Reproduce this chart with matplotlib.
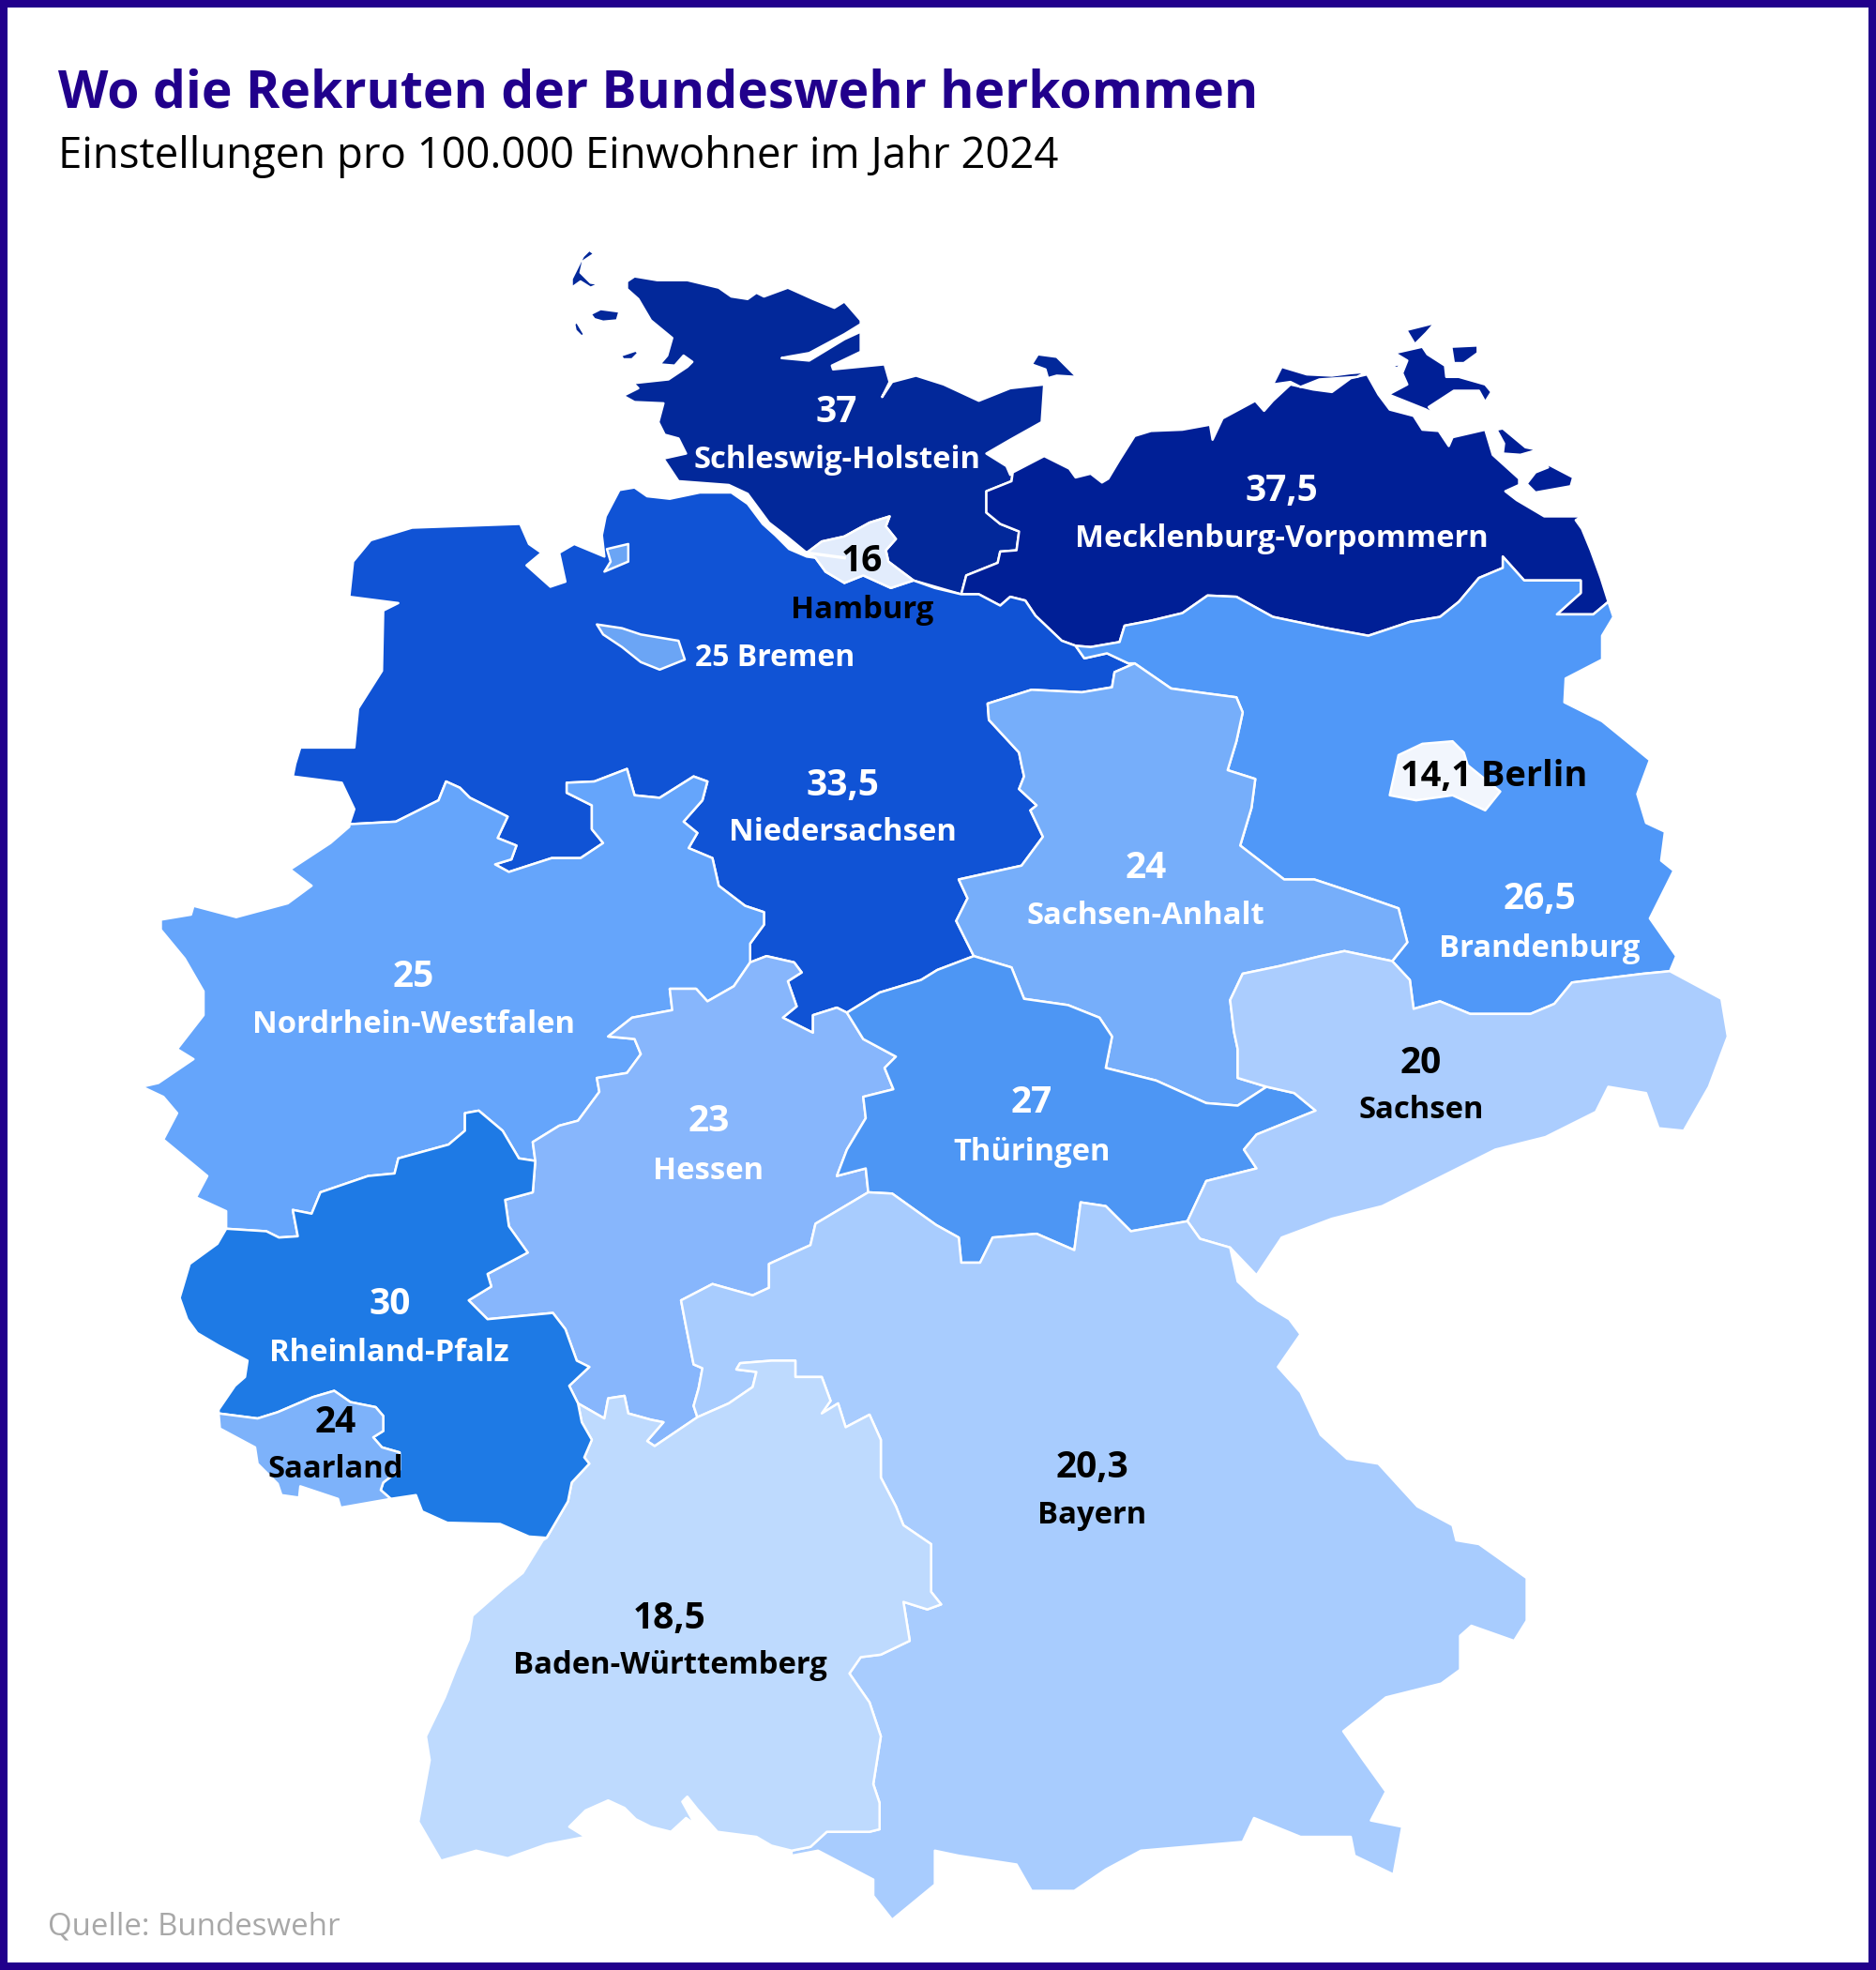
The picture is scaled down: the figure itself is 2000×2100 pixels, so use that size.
import matplotlib
matplotlib.use("Agg")
import matplotlib.pyplot as plt
from matplotlib.patches import Rectangle

plt.rcParams['font.family'] = ['Open Sans', 'DejaVu Sans']

# -------------------------
# Data
# -------------------------
STATES = ["Schleswig-Holstein", "Mecklenburg-Vorpommern", "Hamburg", "Bremen", "Niedersachsen", "Berlin",
          "Sachsen-Anhalt", "Brandenburg", "Nordrhein-Westfalen", "Hessen", "Thüringen", "Sachsen",
          "Rheinland-Pfalz", "Saarland", "Bayern", "Baden-Württemberg"]
VALUES = ["37", "37,5", "16", "25", "33,5", "14,1", "24", "26,5", "25", "23", "27", "20", "30", "24", "20,3", "18,5"]
TITLE = "Wo die Rekruten der Bundeswehr herkommen"
SUBTITLE = "Einstellungen pro 100.000 Einwohner im Jahr 2024"
SOURCE = "Quelle: Bundeswehr"

SH_COAST_N = [(499,224),(505,220),(523,223),(547,223),(572,229),(582,236),(595,238),(602,233),(608,236),(627,229),
              (647,238),(664,245),(672,240),(685,255),(685,258),(672,266),(644,281),(627,284),(622,285),(644,287),
              (672,270),(685,264),(685,280),(662,291),(663,294),(704,290),(708,304),(702,316),(710,304),(729,299),
              (751,306),(779,319),(804,309),(831,306),(829,336),(804,350),(785,361),(801,371),(804,378)]
SH_MV = [(765,473),(769,458),(794,448),(796,439),(809,438),(811,423),(796,417),(785,408),(785,391),(805,383),(806,376)]
HH_SH = [(727,462),(707,447),(705,438),(713,429),(705,419),(708,411),(692,416),(672,427),(654,431),(642,440)]
SH_COAST_W = [(625,426),(612,416),(595,393),(580,386),(540,383),(528,365),(546,361),(540,349),(529,346),(524,336),
              (528,321),(505,320),(496,315),(508,309),(504,305),(532,302),(547,292),(551,288),(544,283),(537,291),
              (525,290),(531,283),(535,269),(518,255),(508,238),(499,230)]
SYLT = [(469,199),(473,202),(464,208),(462,217),(470,225),(477,226),(470,229),(462,224),(455,229),(455,222),(464,204)]
FOEHR = [(470,250),(478,246),(493,248),(491,255),(480,256),(473,254)]
AMRUM = [(457,258),(459,256),(465,266),(463,268),(458,263)]
PELLWORM = [(494,283),(506,279),(508,281),(503,286),(496,286)]
FEHMARN = [(821,290),(826,282),(841,284),(857,300),(841,299),(834,301),(832,294)]

MV_COAST = [(806,376),(831,363),(851,373),(856,380),(868,377),(877,384),(882,381),(891,366),(903,347),(916,343),(941,342),
            (963,338),(965,350),(973,333),(999,319),(1006,327),(1013,319),(1027,306),(1045,310),(1060,312),(1075,301),
            (1088,298),(1097,314),(1106,326),(1125,331),(1132,342),(1145,343),(1153,355),(1156,348),(1182,342),(1188,362),
            (1209,381),(1209,386),(1198,391),(1207,398),(1229,411),(1259,411),(1254,414),(1259,421),(1266,438),(1274,460),
            (1280,479)]
MV_BB = [(1280,479),(1268,489),(1239,489),(1258,472),(1258,462),(1232,462),(1213,462),(1196,443),(1196,452),(1177,460),
         (1161,479),(1146,491),(1122,495),(1089,506),(1056,500),(1013,491),(984,475),(961,474),(941,488),(916,494),(895,498),
         (891,511),(868,515),(856,514)]
NI_MV = [(765,473),(779,473),(796,482),(804,475),(816,478),(824,490),(845,510)]
DARSS = [(1013,306),(1020,292),(1040,298),(1060,299),(1075,297),(1088,296),(1080,300),(1050,302),(1035,308),(1027,304)]
WITTOW = [(1118,263),(1142,257),(1135,265),(1126,274),(1120,264)]
HIDDENSEE = [(1100,271),(1102,271),(1102,280),(1100,280)]
RUEGEN = [(1110,281),(1132,276),(1136,282),(1150,291),(1151,300),(1161,300),(1182,306),(1187,312),(1182,320),(1177,311),
          (1157,311),(1137,324),(1142,330),(1135,326),(1105,314),(1120,306),(1116,297),(1120,287)]
UMMANZ = [(1106,292),(1116,289),(1112,293)]
JASMUND = [(1155,276),(1176,275),(1176,281),(1165,289),(1157,289)]
USEDOM_N = [(1191,342),(1196,341),(1214,356),(1224,358),(1210,362),(1196,361),(1197,353)]
USEDOM_S = [(1229,368),(1252,380),(1250,387),(1222,392),(1215,385),(1222,376),(1232,372)]

NI_COAST = [(278,656),(282,644),(272,623),(233,618),(235,608),(239,595),(282,595),(285,564),(304,534),(305,486),
            (317,480),(278,475),(281,447),(295,430),(328,420),(414,417),(421,433),(431,440),(419,450),(438,467),
            (450,463),(445,440),(457,433),(481,443),(479,426),(482,411),(493,390),(505,388),(515,395),(533,397),
            (557,392),(582,392),(595,401),(607,417),(617,426),(628,437),(642,443),(649,444),(657,455),(672,464),
            (687,458),(709,468),(727,462),(744,468)]
NI_BB = [(856,514),(863,524),(881,520),(898,528),(903,528)]
NI_SA = [(903,528),(887,535),(885,547),(861,551),(821,549),(786,560),(787,573),(811,599),(813,609),(815,618),(811,628),
         (825,641),(820,645),(830,666),(813,689),(763,700),(770,715),(761,733),(775,761)]
NI_TH = [(775,761),(746,772),(733,780),(700,790),(674,806)]
HE_NI = [(597,766),(610,761),(632,766),(638,774),(627,781),(634,801),(623,810),(647,822),(647,808),(666,802),(674,806)]
NRW_NI = [(278,656),(315,654),(349,637),(355,622),(366,627),(374,635),(404,650),(396,667),(411,673),(407,684),(394,688),
          (405,694),(439,683),(462,683),(480,671),(471,660),(471,641),(451,631),(451,623),(473,622),(499,612),(505,633),
          (525,635),(552,618),(563,622),(559,637),(544,654),(555,663),(548,675),(567,683),(572,705),(593,721),(608,726),
          (608,736),(597,751),(597,766)]
NRW_HE = [(597,766),(584,785),(563,797),(554,787),(533,787),(535,804),(503,810),(484,825),(505,827),(510,839),(499,854),
          (475,858),(477,869),(460,892),(445,896),(424,909),(426,924)]
NRW_RLP = [(426,924),(413,922),(400,900),(381,884),(370,886),(370,900),(357,911),(317,922),(314,934),(293,936),(255,949),
           (248,966),(233,963),(237,984),(222,985),(212,980),(180,978)]
NRW_WEST = [(180,978),(180,964),(156,953),(165,936),(130,907),(141,886),(130,873),(113,865),(126,862),(154,843),(141,835),
            (162,808),(162,789),(147,763),(128,740),(128,732),(152,728),(154,721),(188,730),(229,719),(248,705),(231,692),
            (263,671),(278,658)]
RLP_HE = [(426,924),(424,949),(402,955),(405,976),(420,997),(388,1014),(391,1024),(373,1035),(388,1050),(440,1045),
          (450,1058),(459,1083),(469,1088),(453,1103),(460,1117)]
RLP_BW = [(460,1117),(463,1132),(471,1146),(465,1160),(469,1165),(455,1180),(452,1195),(435,1224)]
RLP_S = [(435,1224),(421,1223),(398,1213),(356,1212),(336,1203),(331,1190),(311,1193)]
RLP_SL = [(174,1125),(205,1129),(221,1124),(249,1112),(266,1107),(279,1116),(299,1120),(305,1127),(305,1139),(297,1144),
          (304,1152),(318,1156),(318,1170),(305,1180),(303,1186),(311,1193)]
RLP_W = [(174,1122),(187,1103),(195,1096),(197,1083),(174,1071),(157,1061),(149,1050),(143,1033),(151,1006),(173,990),(180,978)]
SL_S = [(311,1193),(271,1200),(269,1193),(239,1183),(238,1192),(224,1190),(221,1181),(205,1165),(203,1152),(175,1137)]

SA_BB = [(903,528),(932,548),(961,552),(984,555),(989,567),(984,590),(977,613),(999,620),(996,643),(987,673),(1022,700),
         (1046,700),(1070,708),(1113,723),(1120,750),(1108,765)]
SA_SN = [(1108,765),(1070,757),(1051,761),(1018,769),(989,775),(979,796),(982,821),(985,835),(985,858),(1008,865)]
SA_TH = [(1008,865),(985,880),(960,878),(920,860),(880,850),(885,825),(875,810),(850,800),(815,795),(805,770),(775,761)]
TH_SN = [(1008,865),(1030,870),(1047,884),(1000,903),(990,915),(1000,930),(960,940),(945,972)]
TH_BY = [(945,972),(900,980),(880,960),(860,957),(855,995),(825,982),(790,985),(780,1005),(765,1005),(763,985),(745,975),
         (710,950),(691,949)]
TH_HE = [(691,949),(689,930),(666,936),(674,915),(689,890),(687,873),(711,867),(704,850),(713,841),(687,827),(674,806)]
HE_BY = [(691,949),(649,974),(645,991),(612,1006),(612,1025),(599,1031),(567,1022),(542,1035),(546,1056),(552,1086),
         (559,1089),(556,1105),(552,1119),(555,1128)]
HE_BW = [(555,1128),(521,1151),(515,1147),(528,1132),(518,1130),(500,1125),(497,1111),(484,1113),(481,1129),(460,1117)]
BW_BY = [(555,1128),(580,1117),(599,1104),(602,1092),(586,1090),(589,1085),(614,1083),(633,1083),(633,1096),(654,1096),
         (661,1115),(654,1125),(667,1117),(673,1136),(692,1126),(701,1146),(701,1176),(713,1199),(719,1214),(741,1229),
         (741,1267),(749,1277),(738,1281),(719,1275),(724,1306),(701,1317),(685,1319),(676,1332),(692,1355),(701,1382),
         (695,1420),(700,1435),(700,1456),(692,1458),(658,1458),(645,1470),(630,1473)]
BW_S = [(630,1473),(614,1469),(602,1462),(571,1458),(555,1440),(547,1430),(543,1434),(553,1452),(546,1447),(534,1458),
        (518,1454),(506,1448),(497,1439),(484,1433),(466,1441),(453,1454),(466,1462),(435,1468),(404,1479),(379,1473),
        (351,1481),(333,1450),(342,1401),(339,1382),(354,1351),(363,1328),(373,1305),(376,1286),(401,1264),(416,1252),(432,1226)]
BY_EAST = [(945,972),(955,986),(979,993),(985,1020),(1001,1035),(1026,1050),(1035,1062),(1017,1088),(1035,1108),(1051,1142),
           (1072,1161),(1097,1165),(1128,1199),(1156,1214),(1159,1226),(1177,1229),(1215,1256),(1215,1290),(1205,1306),
           (1171,1294),(1162,1302),(1162,1329),(1147,1340),(1103,1351),(1069,1378),(1085,1401),(1103,1426),(1091,1449),
           (1116,1454),(1109,1492),(1078,1477),(1075,1462),(1035,1462),(998,1447),(989,1466),(908,1473),(880,1488),
           (855,1505),(821,1505),(809,1484),(763,1477),(744,1473),(744,1500),(710,1528),(695,1509),(695,1496),(651,1473),
           (630,1477)]
BB_EAST = [(1280,479),(1284,491),(1275,506),(1275,525),(1246,540),(1245,559),(1275,574),(1313,605),(1303,632),(1310,655),
           (1325,662),(1322,685),(1332,693),(1313,731),(1334,761),(1329,773)]
BB_SN = [(1329,773),(1308,775),(1251,782),(1237,799),(1218,807),(1170,807),(1146,797),(1125,803),(1122,780),(1108,765)]
SN_EAST = [(1329,773),(1370,795),(1375,825),(1360,865),(1340,900),(1320,898),(1310,870),(1280,865),(1270,885),(1230,905),
           (1190,915),(1150,935),(1100,960),(1060,970),(1020,985),(1000,1015),(979,993),(955,986),(945,972)]
HH_S = [(642,440),(649,444),(657,455),(672,464),(687,458),(709,468),(727,462)]
ELBE_HH = [(642,440),(672,444)]
BREMEN_CITY = [(475,497),(495,500),(510,505),(540,510),(545,525),(525,533),(510,527),(495,515),(480,505)]
BREMERHAVEN = [(483,437),(500,433),(500,447),(481,455),(486,447)]
BERLIN_RING = [(1106,633),(1113,601),(1132,592),(1156,590),(1165,599),(1168,609),(1194,630),(1182,645),(1156,633),(1127,637)]


def rev(seg):
    return seg[::-1]


SH_RING = SH_COAST_N + rev(SH_MV) + HH_SH + SH_COAST_W
MV_RING = MV_COAST + MV_BB + rev(NI_MV) + SH_MV
NI_RING = NI_COAST + NI_MV + NI_BB + NI_SA + NI_TH + rev(HE_NI) + rev(NRW_NI)
NRW_RING = NRW_NI + NRW_HE + NRW_RLP + NRW_WEST
HE_RING = HE_NI + rev(TH_HE) + HE_BY + HE_BW + rev(RLP_HE) + rev(NRW_HE)
TH_RING = rev(NI_TH) + rev(SA_TH) + TH_SN + TH_BY + TH_HE
SA_RING = SA_BB + SA_SN + SA_TH + rev(NI_SA)
BB_RING = rev(MV_BB) + BB_EAST + BB_SN + rev(SA_BB) + rev(NI_BB)
SN_RING = rev(BB_SN) + SN_EAST + rev(TH_SN) + rev(SA_SN)
RLP_RING = rev(NRW_RLP) + RLP_HE + RLP_BW + RLP_S + rev(RLP_SL) + RLP_W
SL_RING = RLP_SL + SL_S
BW_RING = rev(HE_BW) + BW_BY + BW_S + rev(RLP_BW)
BY_RING = rev(HE_BY) + rev(TH_BY) + BY_EAST + rev(BW_BY)
HH_RING = HH_SH + HH_S

# -------------------------
# Figure
# -------------------------
fig = plt.figure(figsize=(10, 10.5), dpi=200, facecolor="white")
ax = fig.add_axes([0, 0, 1, 1])
ax.set_xlim(0, 1493)
ax.set_ylim(1568, 0)
ax.axis("off")

# draw order matters: city states go on top of the surrounding land
shapes = [
    ([SH_RING, SYLT, FOEHR, AMRUM, PELLWORM, FEHMARN], "#02289A"),
    ([MV_RING, DARSS, WITTOW, HIDDENSEE, RUEGEN, UMMANZ, JASMUND, USEDOM_N, USEDOM_S], "#001F96"),
    ([NI_RING], "#1053D5"),
    ([BB_RING], "#5098F8"),
    ([NRW_RING], "#65A5FB"),
    ([SA_RING], "#76AEFA"),
    ([HE_RING], "#87B6FC"),
    ([TH_RING], "#4D96F4"),
    ([SN_RING], "#ABCDFE"),
    ([BY_RING], "#A8CCFE"),
    ([BW_RING], "#BEDAFE"),
    ([RLP_RING], "#1E7AE5"),
    ([SL_RING], "#7DB2FA"),
    ([HH_RING], "#E2ECFC"),
    ([BREMEN_CITY, BREMERHAVEN], "#6BA5F5"),
    ([BERLIN_RING], "#F2F6FD"),
]
for rings, color in shapes:
    for ring in rings:
        xs, ys = zip(*ring)
        ax.fill(xs, ys, facecolor=color, edgecolor="white", linewidth=0.9, joinstyle="round")
ax.plot(*zip(*ELBE_HH), color="white", linewidth=1.2)

# label anchors: x, y of the value, y of the name, text colour
anchors = {
    "Schleswig-Holstein": (666, 328, 366, "white"),
    "Mecklenburg-Vorpommern": (1020, 391, 429, "white"),
    "Hamburg": (686, 447, 486, "black"),
    "Niedersachsen": (671, 625, 663, "white"),
    "Sachsen-Anhalt": (912, 691, 729, "white"),
    "Brandenburg": (1225, 716, 755, "white"),
    "Nordrhein-Westfalen": (329, 778, 816, "white"),
    "Hessen": (564, 893, 932, "white"),
    "Thüringen": (821, 878, 917, "white"),
    "Sachsen": (1131, 846, 884, "black"),
    "Rheinland-Pfalz": (310, 1038, 1077, "white"),
    "Saarland": (267, 1132, 1170, "black"),
    "Bayern": (869, 1168, 1206, "black"),
    "Baden-Württemberg": (533, 1288, 1326, "black"),
}
for name, value in zip(STATES, VALUES):
    if name in anchors:
        x, y_val, y_name, col = anchors[name]
        ax.text(x, y_val, value, ha="center", va="center", fontsize=14, fontweight="bold", color=col)
        ax.text(x, y_name, name, ha="center", va="center", fontsize=11.8, fontweight="bold", color=col)

ax.text(553, 524, f"{VALUES[STATES.index('Bremen')]} Bremen", ha="left", va="center",
        fontsize=11.5, fontweight="bold", color="white")
ax.text(1189, 618, f"{VALUES[STATES.index('Berlin')]} Berlin", ha="center", va="center",
        fontsize=13.7, fontweight="bold", color="black")

ax.text(46, 75, TITLE, ha="left", va="center", fontsize=19.9, fontweight="bold", color="#21008C")
ax.text(46, 125, SUBTITLE, ha="left", va="center", fontsize=16.4, color="black")
ax.text(38, 1534, SOURCE, ha="left", va="center", fontsize=11.9, color="#A8A8A8")

# frame around the whole picture
fig.add_artist(Rectangle((0.002, 0.0019), 0.996, 0.9962, transform=fig.transFigure, fill=False,
                         edgecolor="#21008C", linewidth=2.9))

fig.savefig("out.png", dpi=200)
